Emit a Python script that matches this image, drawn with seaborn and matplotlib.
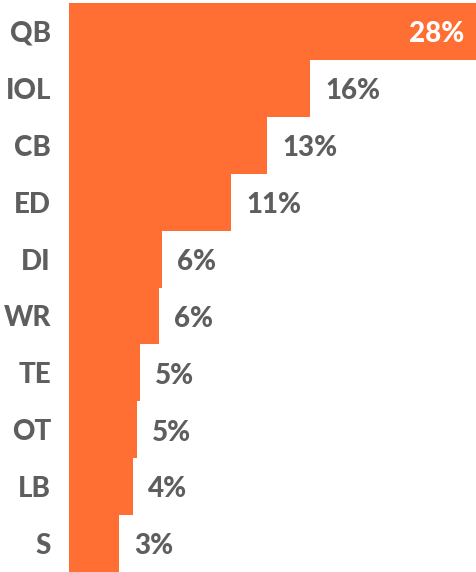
import matplotlib
matplotlib.use('Agg')
import matplotlib.pyplot as plt
import seaborn as sns

# share by position
positions = ['QB', 'IOL', 'CB', 'ED', 'DI', 'WR', 'TE', 'OT', 'LB', 'S']
shares = [27.6, 16.3, 13.4, 10.95, 6.3, 6.1, 4.8, 4.6, 4.3, 3.4]
share_labels = ['28%', '16%', '13%', '11%', '6%', '6%', '5%', '5%', '4%', '3%']

orange = '#FF6F33'
gray = '#5E5E5E'

sns.set_style('white')
plt.rcParams['font.family'] = ['Lato', 'DejaVu Sans']

fig = plt.figure(figsize=(4.77, 5.72), dpi=100)
ax = fig.add_axes([69 / 477, 0, 1 - 69 / 477, 569 / 572])

sns.barplot(x=shares, y=positions, orient='h', color=orange, saturation=1,
            width=1, edgecolor='none', linewidth=0, ax=ax)

ax.set_xlim(0, shares[0])
ax.set_ylim(len(positions) - 0.5, -0.5)
sns.despine(ax=ax, left=True, bottom=True)
ax.set_xticks([])
ax.set_xlabel('')
ax.set_ylabel('')
ax.tick_params(axis='y', length=0, pad=13)
for lbl in ax.get_yticklabels():
    lbl.set_fontsize(20)
    lbl.set_fontweight('black')
    lbl.set_color(gray)

for i, (v, t) in enumerate(zip(shares, share_labels)):
    if i == 0:
        ax.annotate(t, (v, i), xytext=(-9, -2), textcoords='offset points',
                    ha='right', va='center', fontsize=20, fontweight='black', color='white')
    else:
        ax.annotate(t, (v, i), xytext=(11, -2), textcoords='offset points',
                    ha='left', va='center', fontsize=20, fontweight='black', color=gray)

fig.savefig('out.png', dpi=100)
